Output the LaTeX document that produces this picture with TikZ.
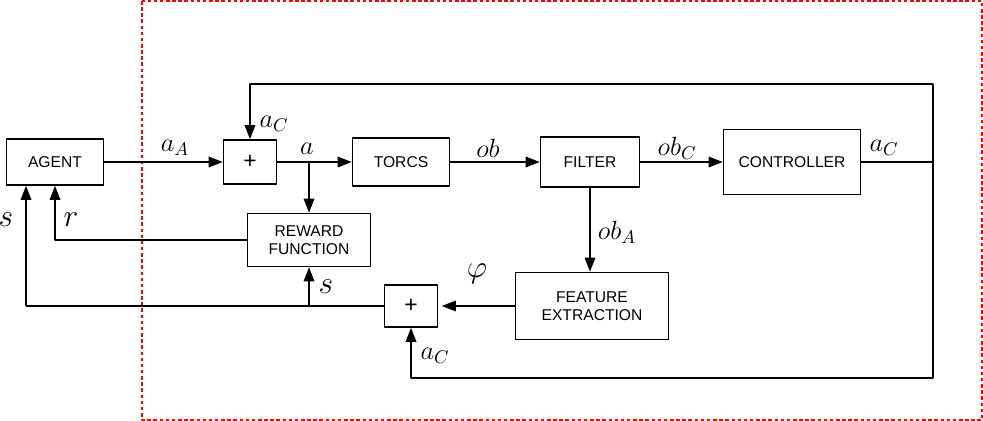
\RequirePackage{fix-cm}
\documentclass[tikz,border=0pt]{standalone}
\usepackage{fontspec}
\newfontfamily\blockfont{Liberation Sans}
\usetikzlibrary{arrows.meta}

\begin{document}
\begin{tikzpicture}[x=0.02cm, y=-0.02cm, line join=round,
  block/.style={draw, line width=0.9pt, inner sep=0pt, align=center,
    font=\blockfont\fontsize{8.9}{10.2}\selectfont},
  sumbox/.style={block, minimum width=1.06cm,
    font=\blockfont\fontsize{13}{14}\selectfont},
  sig/.style={line width=0.9pt, -{Triangle[length=8pt,width=6pt]}},
  wire/.style={line width=0.9pt},
  lbl/.style={inner sep=0pt, font=\fontsize{15}{18}\selectfont},
  biglbl/.style={inner sep=0pt, font=\fontsize{18}{21}\selectfont},
  frame/.style={red, line width=0.6pt, dash pattern=on 2pt off 1.5pt}]
\useasboundingbox (0,0) rectangle (983,421);
% dashed frame
\draw[frame] (142,1) rectangle (982,420);
% blocks
\node[block, minimum width=1.94cm, minimum height=0.92cm] (agent) at (55,162) {AGENT};
\node[sumbox, minimum height=0.88cm] (sumA) at (250,162) {+};
\node[block, minimum width=1.94cm, minimum height=0.96cm] (torcs) at (401,162) {TORCS};
\node[block, minimum width=1.98cm, minimum height=1.00cm] (filter) at (590,162) {FILTER};
\node[block, minimum width=2.74cm, minimum height=1.30cm] (ctrl) at (792,162) {CONTROLLER};
\node[block, minimum width=2.46cm, minimum height=1.06cm] (reward) at (309,240) {REWARD\\FUNCTION};
\node[block, minimum width=3.06cm, minimum height=1.34cm] (feat) at (592,306) {FEATURE\\EXTRACTION};
\node[sumbox, minimum height=0.84cm] (sumB) at (411,306) {+};
% corners and branch points
\coordinate (jA) at (309,162);
\coordinate (cR) at (933,162);
\coordinate (topR) at (933,84);
\coordinate (botR) at (933,378);
\coordinate (jB) at (309,306);
\coordinate (sL) at (26,306);
% forward path
\draw[sig] (agent) -- (sumA);
\draw[sig] (sumA) -- (torcs);
\draw[sig] (jA) -- (reward);
\draw[sig] (torcs) -- (filter);
\draw[sig] (filter) -- (ctrl);
\draw[wire] (ctrl) -- (cR);
% controller feedback
\draw[sig] (cR) -- (topR) -| (sumA);
\draw[sig] (cR) -- (botR) -| (sumB);
% observation branch
\draw[sig] (filter) -- (filter |- feat.north);
\draw[sig, shorten >=2pt] (feat) -- (sumB);
\draw[wire] (sumB) -- (sL);
\draw[sig] (sL) -- (sL |- agent.south);
\draw[sig] (jB) -- (reward);
\draw[sig] (reward) -| (agent);
% labels
\node[lbl] (laA) at (175,148) {$a_A$};
\node[lbl] (laC1) at (274,124) {$a_C$};
\node[lbl] (la) at (307,149) {$a$};
\node[lbl] (lob) at (488,148) {$ob$};
\node[lbl] (lobC) at (677,148) {$ob_C$};
\node[lbl] (laC2) at (884,148) {$a_C$};
\node[lbl] (lobA) at (617,232) {$ob_A$};
\node[biglbl] (lphi) at (477,274) {$\varphi$};
\node[biglbl] (ls1) at (326,287) {$s$};
\node[lbl] (laC3) at (435,356) {$a_C$};
\node[biglbl] (ls2) at (6,220) {$s$};
\node[biglbl] (lr) at (71,220) {$r$};
\end{tikzpicture}
\end{document}
